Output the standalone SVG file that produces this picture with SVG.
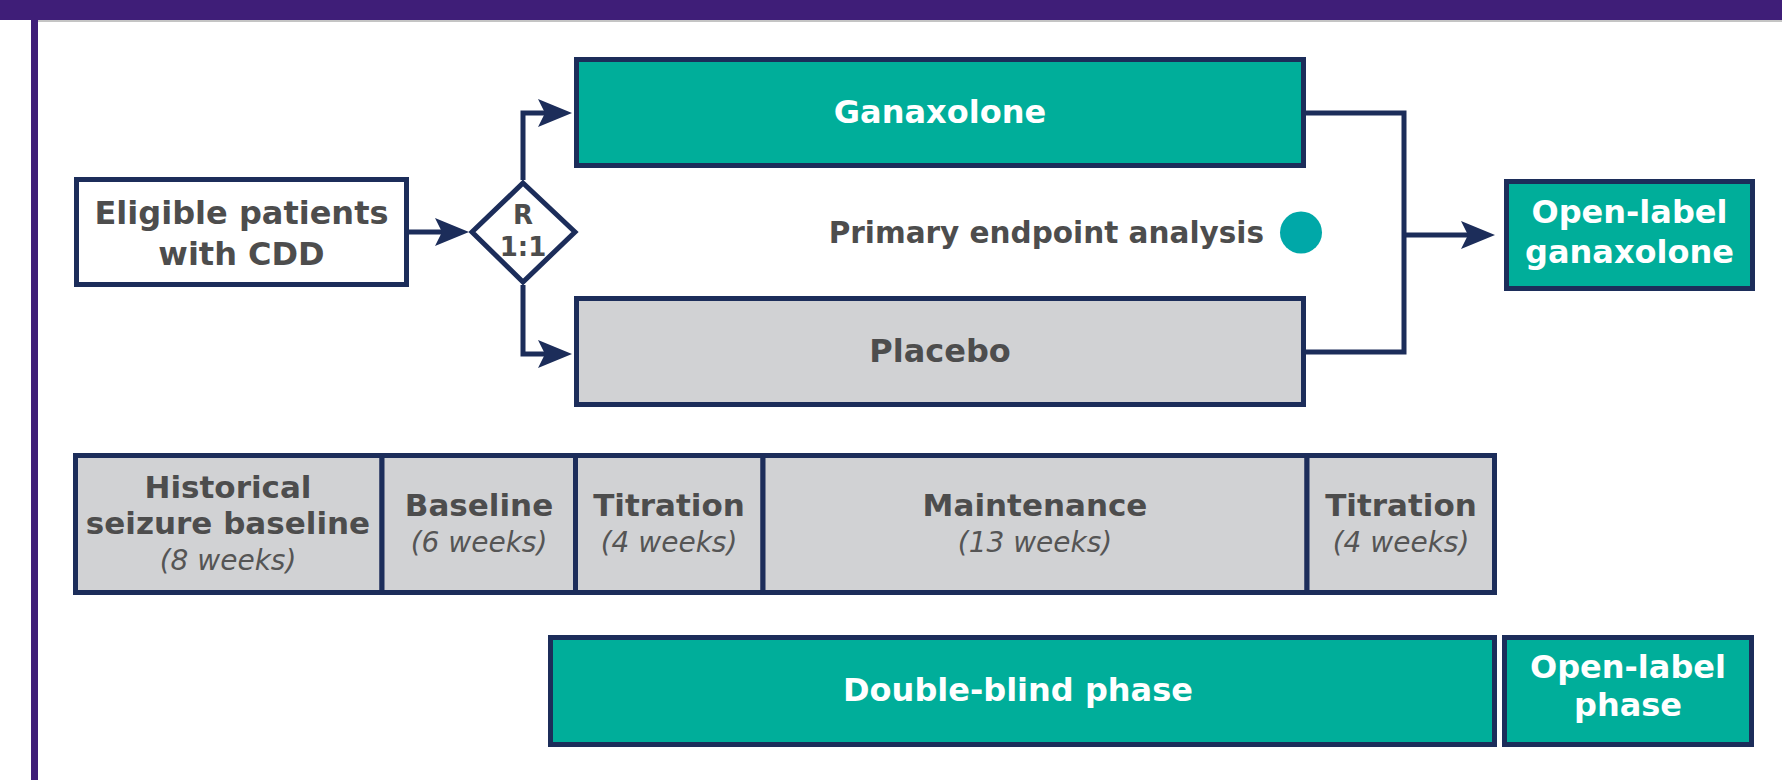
<svg xmlns="http://www.w3.org/2000/svg" width="1782" height="780" viewBox="0 0 1782 780">
<style>
.box{stroke:#1c2d5a;stroke-width:5}
.teal{fill:#00ae9a}
.gray{fill:#d1d2d4}
.white{fill:#ffffff}
.b{font-family:"DejaVu Sans","Liberation Sans",sans-serif;font-weight:700;text-anchor:middle}
.i{font-family:"DejaVu Sans","Liberation Sans",sans-serif;font-style:italic;font-weight:400;text-anchor:middle;fill:#555555}
.tw{fill:#ffffff}
.tg{fill:#4d4d4d}
.conn{fill:none;stroke:#1c2d5a;stroke-width:5}
</style>
<defs>
<marker id="arr" markerUnits="userSpaceOnUse" markerWidth="34" markerHeight="28" refX="20" refY="14" orient="auto">
<path d="M0,0 L34,14 L0,28 L7,14 Z" fill="#1c2d5a"/>
</marker>
</defs>
<rect x="0" y="0" width="1782" height="780" fill="#ffffff"/>
<g id="frame">
<rect x="0" y="0" width="1782" height="20" fill="#3f1e78"/>
<rect x="31" y="0" width="7" height="780" fill="#3f1e78"/>
<line x1="38" y1="21" x2="1782" y2="21" stroke="#8a8a8a" stroke-width="1"/>
</g>
<g id="connectors">
<path class="conn" d="M409,232 H455" marker-end="url(#arr)"/>
<path class="conn" d="M523,180 V113 H558" marker-end="url(#arr)"/>
<path class="conn" d="M523,285 V354 H558" marker-end="url(#arr)"/>
<path class="conn" d="M1306,113 H1404 V352 H1306"/>
<path class="conn" d="M1404,235 H1481" marker-end="url(#arr)"/>
</g>
<g id="eligible">
<rect class="box white" x="76.5" y="179.5" width="330" height="105"/>
<text class="b tg" x="241.5" y="224" font-size="32">Eligible patients</text>
<text class="b tg" x="241.5" y="265" font-size="32">with CDD</text>
</g>
<g id="randomize">
<polygon class="box white" points="523,183 575,232 523,282 472,232"/>
<text class="b tg" x="523" y="224" font-size="26">R</text>
<text class="b tg" x="523" y="256" font-size="26">1:1</text>
</g>
<g id="ganaxolone">
<rect class="box teal" x="576.5" y="59.5" width="727" height="106"/>
<text class="b tw" x="940" y="123" font-size="32">Ganaxolone</text>
</g>
<g id="placebo">
<rect class="box gray" x="576.5" y="298.5" width="727" height="106"/>
<text class="b tg" x="940" y="362" font-size="32">Placebo</text>
</g>
<g id="endpoint">
<text class="b tg" x="1264" y="243" font-size="29.5" style="text-anchor:end">Primary endpoint analysis</text>
<circle cx="1301" cy="232.5" r="21" fill="#00a8a8"/>
</g>
<g id="openlabel">
<rect class="box teal" x="1506.5" y="181.5" width="246" height="107"/>
<text class="b tw" x="1629.5" y="223" font-size="32">Open-label</text>
<text class="b tw" x="1629.5" y="263" font-size="32">ganaxolone</text>
</g>
<g id="historical">
<rect class="box gray" x="75.5" y="455.5" width="306.5" height="137"/>
<text class="b tg" x="228" y="498" font-size="31">Historical</text>
<text class="b tg" x="228" y="534" font-size="31">seizure baseline</text>
<text class="i" x="228" y="570" font-size="28">(8 weeks)</text>
</g>
<g id="baseline">
<rect class="box gray" x="382" y="455.5" width="193.5" height="137"/>
<text class="b tg" x="479" y="516" font-size="31">Baseline</text>
<text class="i" x="479" y="552" font-size="28">(6 weeks)</text>
</g>
<g id="titration1">
<rect class="box gray" x="575.5" y="455.5" width="187.5" height="137"/>
<text class="b tg" x="669" y="516" font-size="31">Titration</text>
<text class="i" x="669" y="552" font-size="28">(4 weeks)</text>
</g>
<g id="maintenance">
<rect class="box gray" x="763" y="455.5" width="544" height="137"/>
<text class="b tg" x="1035" y="516" font-size="31">Maintenance</text>
<text class="i" x="1035" y="552" font-size="28">(13 weeks)</text>
</g>
<g id="titration2">
<rect class="box gray" x="1307" y="455.5" width="187.5" height="137"/>
<text class="b tg" x="1401" y="516" font-size="31">Titration</text>
<text class="i" x="1401" y="552" font-size="28">(4 weeks)</text>
</g>
<g id="doubleblind">
<rect class="box teal" x="550.5" y="637.5" width="944" height="107"/>
<text class="b tw" x="1018" y="701" font-size="32">Double-blind phase</text>
</g>
<g id="openlabelphase">
<rect class="box teal" x="1504.5" y="637.5" width="247" height="107"/>
<text class="b tw" x="1628" y="678" font-size="32">Open-label</text>
<text class="b tw" x="1628" y="716" font-size="32">phase</text>
</g>
</svg>
